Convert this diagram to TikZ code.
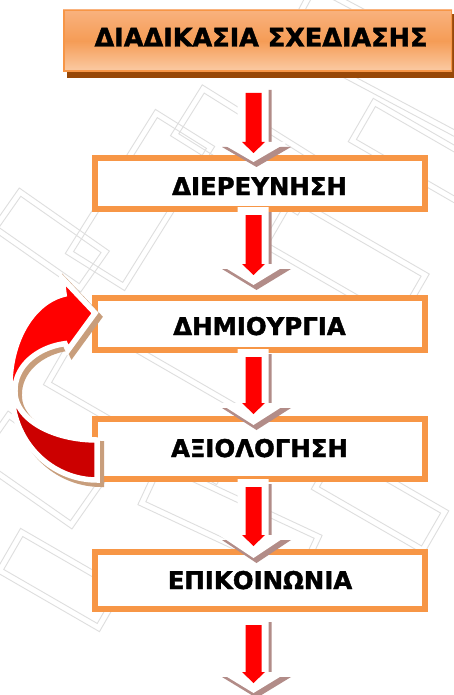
\documentclass[tikz,border=0pt]{standalone}
\usepackage{fontspec}
\setmainfont{DejaVu Sans}
\newfontfamily\heavyfont{DejaVu Sans Bold}[FakeBold=1.6]
\definecolor{boxorange}{RGB}{247,150,70}
\definecolor{titletop}{RGB}{249,178,126}
\definecolor{titlemid}{RGB}{245,156,86}
\definecolor{titlebot}{RGB}{251,204,166}
\definecolor{titleshadow}{RGB}{152,72,7}
\definecolor{arrowred}{RGB}{255,0,0}
\definecolor{darkred}{RGB}{204,0,0}
\definecolor{arrowshadow}{RGB}{178,140,136}
\definecolor{curveshadow}{RGB}{200,158,124}
\definecolor{texture}{RGB}{222,222,222}

% block arrow pointing down: #1 top of shaft, #2 start of head, #3 tip
\newcommand{\flowarrow}[3]{%
  \fill[arrowshadow,shift={(3,5)}] (237.5,#1) -- (268.5,#1) -- (268.5,#2) -- (288,#2)
      -- (253.5,#3) -- (219,#2) -- (237.5,#2) -- cycle;
  \fill[white] (237.5,#1) -- (268.5,#1) -- (268.5,#2) -- (288,#2)
      -- (253.5,#3) -- (219,#2) -- (237.5,#2) -- cycle;
  \fill[arrowred] (245.5,#1+8) -- (261.5,#1+8) -- (261.5,#2) -- (265,#2)
      -- (253.5,#2+11) -- (242,#2) -- (245.5,#2) -- cycle;
}
% faint double frame of the background texture: centre, width, height, angle
\newcommand{\textureframe}[5]{%
  \draw[texture,line width=0.9,rotate around={#5:(#1,#2)}]
    (#1-#3/2,#2-#4/2) rectangle (#1+#3/2,#2+#4/2)
    (#1-#3/2+6,#2-#4/2+6) rectangle (#1+#3/2-6,#2+#4/2-6);
}
% outlines of the curved arrow: back part and front part with its head
\newcommand{\backband}{(97,440) -- plot[domain=90:180,samples=40] ({97+82*cos(\x)},{392+48*sin(\x)})
    -- plot[domain=180:90,samples=40] ({97+85*cos(\x)},{392+88*sin(\x)}) -- cycle}
\newcommand{\frontband}{(15,390) -- plot[domain=180:260.3,samples=40] ({75+65*cos(\x)},{385+92*sin(\x)})
    -- (62,278) -- (95,313) -- (68,350)
    -- plot[domain=260.4:180,samples=40] ({75+60*cos(\x)},{390+47*sin(\x)}) -- cycle}

\begin{document}
\begin{tikzpicture}[x=1pt,y=-1pt,
  stepbox/.style={draw=boxorange,line width=6,fill=white,inner sep=0,
    minimum width=330,minimum height=#1},
  lbl/.style={font=\heavyfont\fontsize{24.4}{28}\selectfont,inner sep=0,anchor=base},
  titlelbl/.style={font=\heavyfont\fontsize{25.5}{30}\selectfont,inner sep=0,anchor=base}]

\useasboundingbox (0,0) rectangle (453,695);
\fill[white] (0,0) rectangle (453,695);

% background texture
\textureframe{385}{60}{200}{70}{-28}
\textureframe{430}{160}{160}{50}{-30}
\textureframe{250}{150}{150}{60}{-32}
\textureframe{140}{200}{70}{170}{-32}
\textureframe{50}{240}{110}{50}{-35}
\textureframe{345}{260}{160}{60}{-30}
\textureframe{150}{400}{200}{80}{-30}
\textureframe{380}{500}{130}{50}{-30}
\textureframe{40}{470}{120}{60}{-35}
\textureframe{230}{520}{180}{50}{-25}
\textureframe{60}{580}{120}{50}{-30}

% title bar
\fill[titleshadow] (67,14) rectangle (456,78);
\shade[top color=titletop,bottom color=titlebot,middle color=titlemid]
  (63,10) rectangle (452,72);
\draw[boxorange,line width=1.5] (63.75,10.75) rectangle (451.25,71.25);
\node[titlelbl] (t0) at (261,46.5) {ΔΙΑΔΙΚΑΣΙΑ ΣΧΕΔΙΑΣΗΣ};

% steps
\node[stepbox=51] (b1) at (260,183.5) {};
\node[stepbox=52] (b2) at (260,324) {};
\node[stepbox=60] (b3) at (260,449) {};
\node[stepbox=57] (b4) at (260,580.5) {};
\node[lbl] (t1) at (259.5,195) {ΔΙΕΡΕΥΝΗΣΗ};
\node[lbl] (t2) at (259.5,335) {ΔΗΜΙΟΥΡΓΙΑ};
\node[lbl] (t3) at (259.5,457) {ΑΞΙΟΛΟΓΗΣΗ};
\node[lbl] (t4) at (260,589) {ΕΠΙΚΟΙΝΩΝΙΑ};

% downward arrows
\flowarrow{85}{142}{162}
\flowarrow{207}{264}{285}
\flowarrow{349}{403}{425}
\flowarrow{479}{535}{558}
\flowarrow{617}{672}{693}

% curved feedback arrow from the evaluation step back to creation
\begin{scope}[shift={(4,4)}]
  \filldraw[fill=curveshadow,draw=curveshadow,line width=6] \backband;
  \filldraw[fill=curveshadow,draw=curveshadow,line width=6] \frontband;
\end{scope}
\filldraw[fill=darkred,draw=white,line width=5.5] \backband;
\filldraw[fill=arrowred,draw=white,line width=5.5] \frontband;
\end{tikzpicture}
\end{document}
